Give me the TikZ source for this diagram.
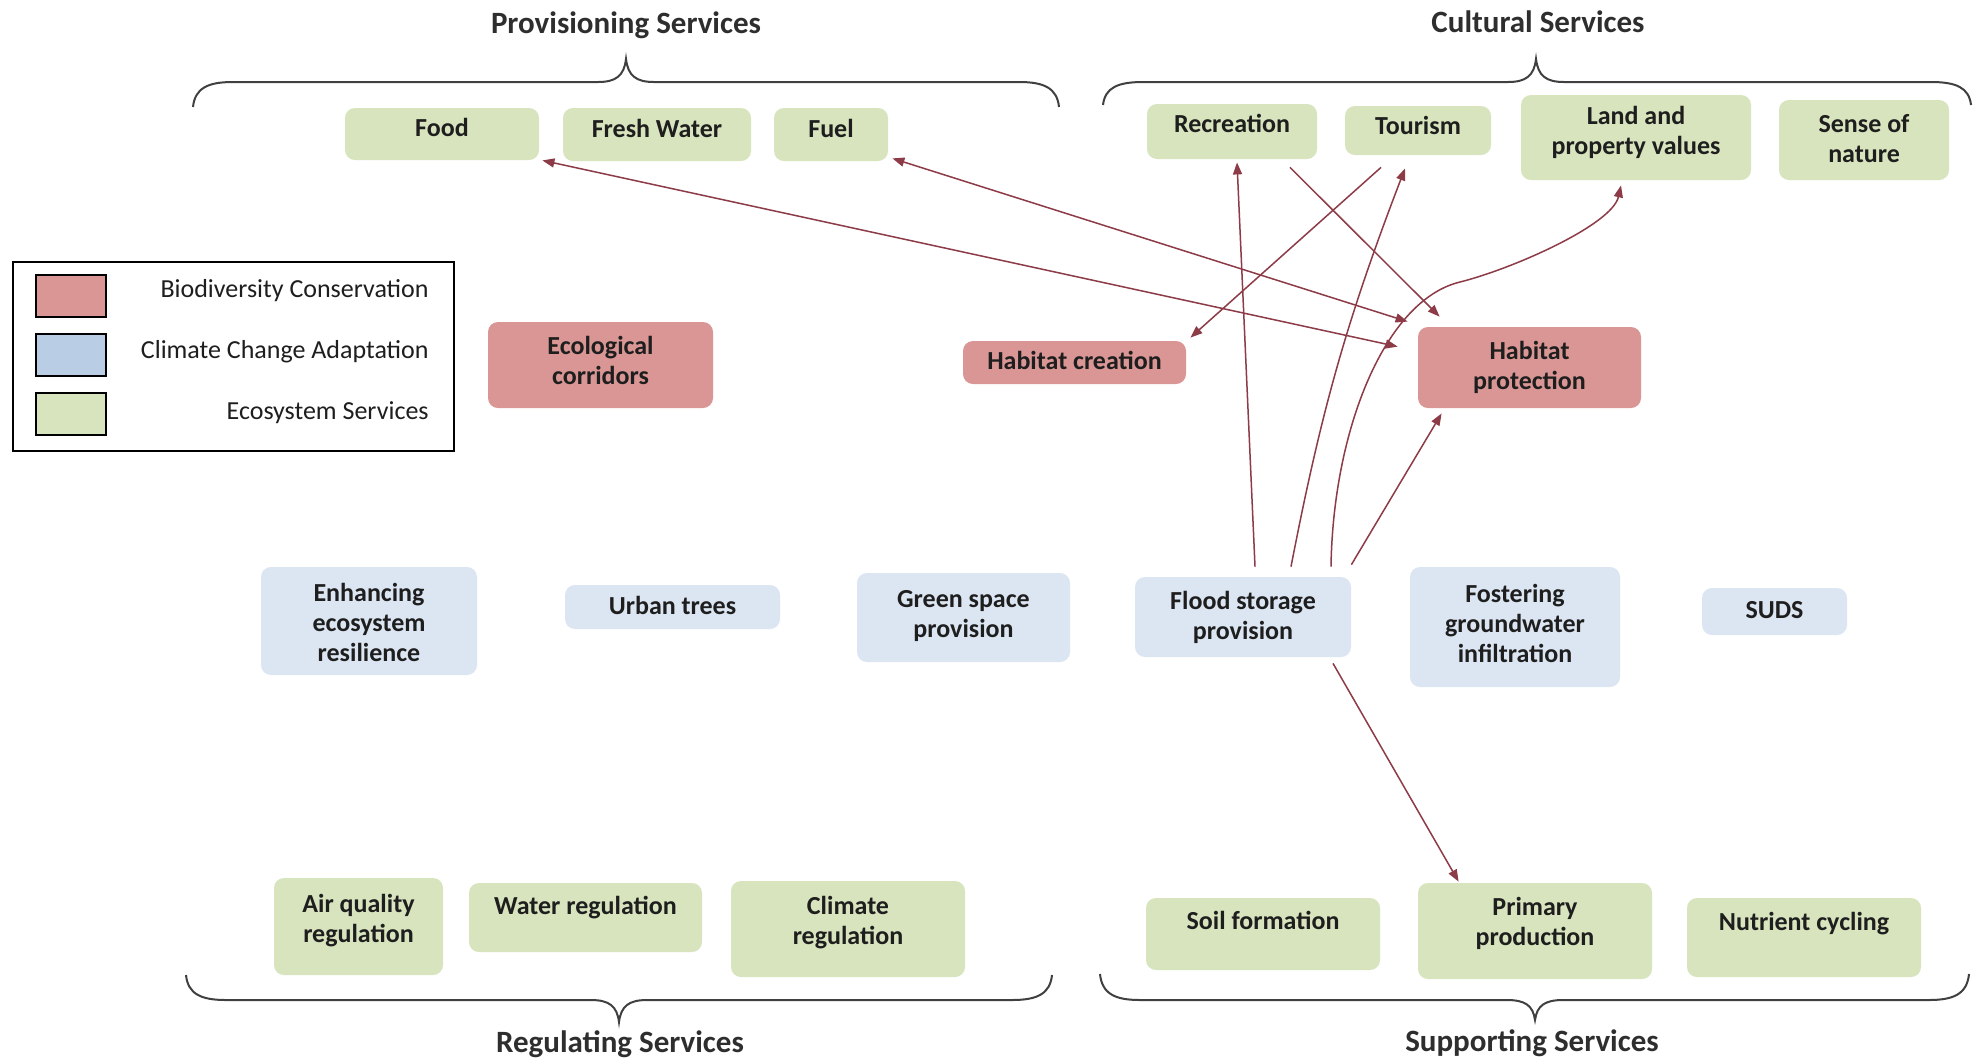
\documentclass[tikz,border=0pt]{standalone}
\usepackage{fontspec}
\setmainfont{Carlito}
\usetikzlibrary{arrows.meta}
\definecolor{gfill}{HTML}{D7E4BD}
\definecolor{rfill}{HTML}{D99694}
\definecolor{bfill}{HTML}{DCE6F2}
\definecolor{lblue}{HTML}{B9CDE5}
\definecolor{arr}{HTML}{8C3B47}
\definecolor{txt}{HTML}{1E1E1E}
\definecolor{brc}{HTML}{404040}
\newcommand{\nodefont}{\fontsize{13}{15}\selectfont\bfseries}
\newcommand{\titlefont}{\fontsize{15.5}{18}\selectfont\bfseries}
\newcommand{\legfont}{\fontsize{13}{15}\selectfont}
\newcommand{\lb}[2]{\raisebox{\dimexpr #1pt-3.6pt\relax}[0pt][0pt]{\begin{tabular}{@{}c@{}}#2\end{tabular}}}
\newcommand{\mybrace}[6]{%
  \draw[bracestyle] (#1,#4) .. controls ({#1+2},{#5+0.24*(#4-#5)}) and ({#1+15},#5) .. ({#1+40},#5)
    -- ({#2-28},#5) .. controls ({#2-10},#5) and ({#2-2},{#5+0.27*(#6-#5)}) .. (#2,#6)
    .. controls ({#2+2},{#5+0.27*(#6-#5)}) and ({#2+10},#5) .. ({#2+28},#5)
    -- ({#3-40},#5) .. controls ({#3-15},#5) and ({#3-2},{#5+0.24*(#4-#5)}) .. (#3,#4);}
\tikzset{
  box/.style={rectangle, rounded corners=5pt, draw=none, inner sep=0pt, text=txt, font=\nodefont},
  gbox/.style={box, fill=gfill},
  rbox/.style={box, fill=rfill},
  bbox/.style={box, fill=bfill},
  title/.style={font=\titlefont, text=black!82, inner sep=0pt, anchor=base},
  bracestyle/.style={draw=brc, line width=1pt},
  conn/.style={draw=arr, line width=0.75pt, -{Triangle[length=6pt,width=4.5pt]}},
  biconn/.style={draw=arr, line width=0.75pt, {Triangle[length=6pt,width=4.5pt]}-{Triangle[length=6pt,width=4.5pt]}},
  swatch/.style={rectangle, draw=black, line width=1.1pt, minimum width=35pt, minimum height=21pt, inner sep=0pt},
  legtext/.style={font=\legfont, text=txt, inner sep=0pt, anchor=east}
}
\begin{document}
\begin{tikzpicture}[x=0.5pt, y=-0.5pt]
\fill[white] (0,0) rectangle (1979,1062);
\useasboundingbox (0,0) rectangle (1979,1062);

% titles
\node[title] (tprov) at (626,33) {Provisioning Services};
\node[title] (tcult) at (1538,32) {Cultural Services};
\node[title] (treg) at (620,1052) {Regulating Services};
\node[title] (tsup) at (1532,1051) {Supporting Services};

% braces
\mybrace{193}{626}{1059}{107}{82}{59}
\mybrace{1103}{1536}{1971}{105}{82}{59}
\mybrace{186}{619}{1052}{975}{1000}{1022}
\mybrace{1100}{1535}{1969}{974}{1000}{1020}

% provisioning / cultural services
\node[gbox, minimum width=97pt, minimum height=26pt] (food) at (442,134) {\lb{2.5}{Food}};
\node[gbox, minimum width=94pt, minimum height=26.5pt] (fresh) at (657,134.5) {\lb{2.25}{Fresh Water}};
\node[gbox, minimum width=57pt, minimum height=26.5pt] (fuel) at (831,134.5) {\lb{2.25}{Fuel}};
\node[gbox, minimum width=85pt, minimum height=27.5pt] (recre) at (1232,131.5) {\lb{3.25}{Recreation}};
\node[gbox, minimum width=73pt, minimum height=24.5pt] (tour) at (1418,130.5) {\lb{1.75}{Tourism}};
\node[gbox, minimum width=115pt, minimum height=42.5pt] (land) at (1636,137.5) {\lb{2.5}{Land and\\property values}};
\node[gbox, minimum width=85pt, minimum height=40pt] (sense) at (1864,140) {\lb{0}{Sense of\\nature}};

% biodiversity conservation
\node[rbox, minimum width=112.5pt, minimum height=43pt] (eco) at (600.5,365) {\lb{1.5}{Ecological\\corridors}};
\node[rbox, minimum width=111.5pt, minimum height=21.5pt] (hcre) at (1074.5,362.5) {\lb{0}{Habitat creation}};
\node[rbox, minimum width=111.5pt, minimum height=40.5pt] (hpro) at (1529.5,367.5) {\lb{0}{Habitat\\protection}};

% climate change adaptation
\node[bbox, minimum width=108pt, minimum height=54pt] (enh) at (369,621) {\lb{-1.5}{Enhancing\\ecosystem\\resilience}};
\node[bbox, minimum width=107.5pt, minimum height=22pt] (urban) at (672.5,607) {\lb{0}{Urban trees}};
\node[bbox, minimum width=106.5pt, minimum height=44.5pt] (green) at (963.5,617.5) {\lb{1}{Green space\\provision}};
\node[bbox, minimum width=108pt, minimum height=40pt] (flood) at (1243,617) {\lb{0}{Flood storage\\provision}};
\node[bbox, minimum width=105pt, minimum height=60pt] (foster) at (1515,627) {\lb{1}{Fostering\\groundwater\\infiltration}};
\node[bbox, minimum width=72.5pt, minimum height=23.5pt] (suds) at (1774.5,611.5) {\lb{0}{SUDS}};

% regulating / supporting services
\node[gbox, minimum width=84.5pt, minimum height=48.5pt] (air) at (358.5,926.5) {\lb{3.25}{Air quality\\regulation}};
\node[gbox, minimum width=116.5pt, minimum height=34.5pt] (water) at (585.5,917.5) {\lb{5.25}{Water regulation}};
\node[gbox, minimum width=117pt, minimum height=48pt] (clim) at (848,929) {\lb{3.5}{Climate\\regulation}};
\node[gbox, minimum width=117pt, minimum height=36pt] (soil) at (1263,934) {\lb{6}{Soil formation}};
\node[gbox, minimum width=117pt, minimum height=48pt] (prim) at (1535,931) {\lb{4}{Primary\\production}};
\node[gbox, minimum width=117pt, minimum height=39.5pt] (nutr) at (1804,937.5) {\lb{7.25}{Nutrient cycling}};

% legend
\node[rectangle, draw=black, line width=1pt, minimum width=220.5pt, minimum height=94.5pt, inner sep=0pt] (legend) at (233.5,356.5) {};
\node[swatch, fill=rfill] (swr) at (71,296) {};
\node[swatch, fill=lblue] (swb) at (71,355) {};
\node[swatch, fill=gfill] (swg) at (71,414) {};
\node[legtext] (lgr) at (429,291) {Biodiversity Conservation};
\node[legtext] (lgb) at (429,352) {Climate Change Adaptation};
\node[legtext] (lgg) at (429,413) {Ecosystem Services};

% connectors
\draw[biconn] ([shift={(3,0)}]food.south east) -- ([shift={(-20,20)}]hpro.north west);
\draw[biconn] ([shift={(4,-3)}]fuel.south east) -- ([shift={(-10,-5)}]hpro.north west);
\draw[conn] ([shift={(58,8)}]recre.south) -- ([shift={(22,-10)}]hpro.north west);
\draw[conn] ([shift={(-37,12)}]tour.south) -- ([shift={(4,-3)}]hcre.north east);
\draw[conn] ([shift={(12,-10)}]flood.north) -- ([shift={(5,3)}]recre.south);
\draw[conn] ([shift={(48,-10)}]flood.north) to[bend left=5] ([shift={(-13,13)}]tour.south);
\draw[conn] ([shift={(88,-10)}]flood.north) .. controls (1333,430) and (1385,300) .. (1460,282)
   .. controls (1512,269) and (1612,225) .. ([shift={(-15,5)}]land.south);
\draw[conn] ([shift={(0,-12)}]flood.north east) -- ([shift={(24,5)}]hpro.south west);
\draw[conn] ([shift={(90,6)}]flood.south) -- ([shift={(41,-1)}]prim.north west);
\end{tikzpicture}
\end{document}
